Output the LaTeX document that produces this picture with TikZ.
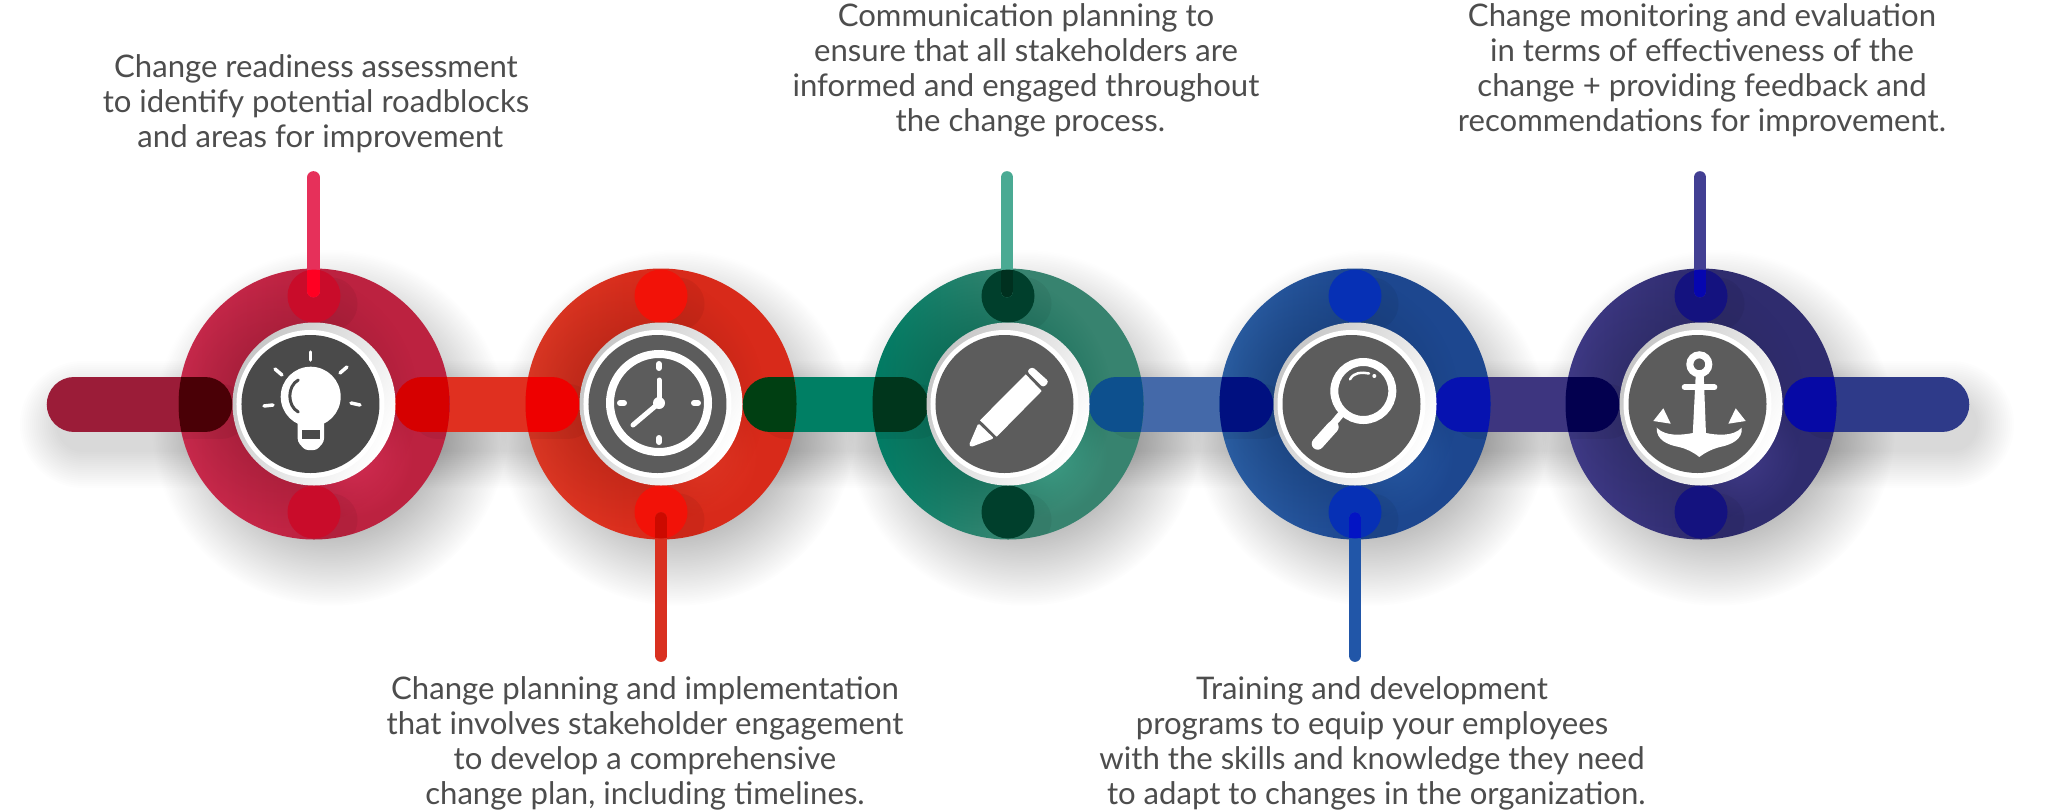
\documentclass[tikz,border=0pt]{standalone}
\usepackage{fontspec}
\setmainfont{Lato}
\usepackage{xcolor}
\usetikzlibrary{fadings}
% ring: left edge, base, dark blob, light blob
\definecolor{ringside1}{HTML}{CE2B4F}\definecolor{ringbase1}{HTML}{BC2240}\definecolor{ringdark1}{HTML}{921A32}\definecolor{ringlight1}{HTML}{D62E54}
\definecolor{ringside2}{HTML}{E03A26}\definecolor{ringbase2}{HTML}{D82A1A}\definecolor{ringdark2}{HTML}{A62114}\definecolor{ringlight2}{HTML}{E23624}
\definecolor{ringside3}{HTML}{008068}\definecolor{ringbase3}{HTML}{37836F}\definecolor{ringdark3}{HTML}{005F4A}\definecolor{ringlight3}{HTML}{40A088}
\definecolor{ringside4}{HTML}{2D62A8}\definecolor{ringbase4}{HTML}{1D478F}\definecolor{ringdark4}{HTML}{163A6E}\definecolor{ringlight4}{HTML}{2759A4}
\definecolor{ringside5}{HTML}{423C8C}\definecolor{ringbase5}{HTML}{2F2C6E}\definecolor{ringdark5}{HTML}{2A295C}\definecolor{ringlight5}{HTML}{413B8A}
% small circle, stick, stick over circle
\definecolor{dot1}{HTML}{C90C2A}\definecolor{stick1}{HTML}{E6305A}\definecolor{stickover1}{HTML}{FF0022}
\definecolor{dot2}{HTML}{F21208}\definecolor{stick2}{HTML}{D93020}\definecolor{stickover2}{HTML}{CC0A00}
\definecolor{dot3}{HTML}{003F2C}\definecolor{stick3}{HTML}{4AAA93}\definecolor{stickover3}{HTML}{00301F}
\definecolor{dot4}{HTML}{0630B5}\definecolor{stick4}{HTML}{2156A8}\definecolor{stickover4}{HTML}{0314C4}
\definecolor{dot5}{HTML}{14127F}\definecolor{stick5}{HTML}{423F93}\definecolor{stickover5}{HTML}{0606B0}
% bars and where they run over a ring
\definecolor{bar1}{HTML}{9B1C38}\definecolor{bar2}{HTML}{E03020}\definecolor{bar3}{HTML}{007F64}
\definecolor{bar4}{HTML}{4469A9}\definecolor{bar5}{HTML}{3D357F}\definecolor{bar6}{HTML}{2E3A89}
\definecolor{overA}{HTML}{4A0006}\definecolor{overB}{HTML}{D60000}\definecolor{overC}{HTML}{EE0000}
\definecolor{overD}{HTML}{003F12}\definecolor{overE}{HTML}{00361C}\definecolor{overF}{HTML}{0D508E}
\definecolor{overG}{HTML}{001080}\definecolor{overH}{HTML}{0612B0}\definecolor{overI}{HTML}{03004F}
\definecolor{overJ}{HTML}{0609A5}
\definecolor{notegray}{HTML}{4D4D4D}
\definecolor{facegray}{HTML}{5C5C5C}
\definecolor{facedark}{HTML}{4A4A4A}
\definecolor{hubgray}{HTML}{C6C6C6}
\tikzfading[name=softfade, inner color=transparent!0, outer color=transparent!100]
\tikzset{
    barline/.style={line width=.545cm, line cap=round},
    stickline/.style={line width=.127cm, line cap=round},
    softbar/.style={line width=#1cm, line cap=round, black, opacity=.007},
    notetext/.style={font=\fontsize{8.85pt}{9.96pt}\selectfont, text=notegray, align=center, inner sep=0pt},
    iconline/.style={white, line width=.05cm, line cap=round},
    cutline/.style={line width=.03cm, line cap=round}
}
\begin{document}
\begin{tikzpicture}[x=.01cm, y=-.01cm]
    \useasboundingbox (0,0) rectangle (2049,809);
    \fill[white] (0,0) rectangle (2049,809);

    % Named points
    \foreach \n/\x in {1/314,2/661,3/1008,4/1355,5/1701}
        \coordinate (hub\n) at (\x,404);
    \foreach \n/\a/\b in {1/74/205,2/422/552,3/770/901,4/1116/1246,5/1462/1592,6/1811/1942} {
        \coordinate (bar\n a) at (\a,404.5);
        \coordinate (bar\n b) at (\b,404.5);
    }
    \foreach \n/\x/\a/\b in {1/313.5/177.5/291,2/661/518.5/655.5,3/1007/177.5/291,4/1355/518.5/655.5,5/1700/177.5/291} {
        \coordinate (stick\n a) at (\x,\a);
        \coordinate (stick\n b) at (\x,\b);
    }

    % Soft shadows
    \foreach \n in {1,...,5}
        \fill[black, opacity=.62, path fading=softfade] ([shift={(16,24)}]hub\n) circle (178);
    \foreach \n in {1,...,6}
        \foreach \w in {.54,.58,...,1.3}
            \draw[softbar=\w] ([shift={(9,20)}]bar\n a) -- ([shift={(9,20)}]bar\n b);

    % Bars
    \foreach \n in {1,...,6}
        \draw[barline, bar\n] (bar\n a) -- (bar\n b);

    % Rings
    \foreach \n in {1,...,5} {
        \shade[left color=ringside\n, right color=ringbase\n, middle color=ringbase\n] (hub\n) circle (135.5);
        \begin{scope}
            \clip (hub\n) circle (135.5);
            \fill[ringdark\n, path fading=softfade] ([shift={(-24,-4)}]hub\n) circle (128);
            \fill[ringlight\n, path fading=softfade] ([shift={(38,52)}]hub\n) circle (62);
            % faint shadows of bars and small circles on the ring
            \fill[black, opacity=.05] ([shift={(17,8)}]hub\n) ++(0,-108) circle (26.5);
            \fill[black, opacity=.05] ([shift={(17,8)}]hub\n) ++(0,108) circle (26.5);
            \draw[barline, black, opacity=.05] ([shift={(16,7)}]bar\n a) -- ([shift={(16,7)}]bar\n b);
            \pgfmathtruncatemacro{\m}{\n+1}
            \draw[barline, black, opacity=.05] ([shift={(16,7)}]bar\m a) -- ([shift={(16,7)}]bar\m b);
        \end{scope}
    }

    % Bars running over the rings
    \foreach \n/\b/\c in {1/1/overA,1/2/overB,2/2/overC,2/3/overD,3/3/overE,3/4/overF,4/4/overG,4/5/overH,5/5/overI,5/6/overJ} {
        \begin{scope}
            \clip (hub\n) circle (135.5);
            \draw[barline, \c] (bar\b a) -- (bar\b b);
        \end{scope}
    }

    % Small circles
    \foreach \n in {1,...,5} {
        \fill[dot\n] (hub\n) ++(0,-108) coordinate (dot\n a) circle (26.5);
        \fill[dot\n] (hub\n) ++(0,108) coordinate (dot\n b) circle (26.5);
    }

    % Sticks
    \foreach \n/\d in {1/a,2/b,3/a,4/b,5/a} {
        \draw[stickline, stick\n] (stick\n a) -- (stick\n b);
        \begin{scope}
            \clip (dot\n\d) circle (26.5);
            \draw[stickline, stickover\n] (stick\n a) -- (stick\n b);
        \end{scope}
    }

    % Hubs
    \foreach \n in {1,...,5} {
        \shade[left color=hubgray, right color=white, shading angle=60] (hub\n) circle (81.5);
        \fill[white] ([xshift=-1]hub\n) circle (74);
    }
    \fill[facedark] ([xshift=-1]hub1) circle (69);
    \foreach \n in {2,...,5}
        \fill[facegray] ([xshift=-1]hub\n) circle (69);

    % Lamp
    \begin{scope}[shift={(hub1)}, xshift=-.01cm, yshift=.01cm]
        \fill[white] (-2.3,-6.3) circle (30);
        \fill[white, rounded corners=.03cm] (-15.3,14) -- (11,14) -- (11,38.7) -- (3.7,47) -- (-8,47) -- (-15.3,38.7) -- cycle;
        \fill[facedark] (-11.3,27) -- (7,27) -- (7,36) -- (-11.3,36) -- cycle;
        \draw[cutline, facedark] (-14.7,-23) .. controls (-26,-17) and (-26,3) .. (-14.7,9);
        \draw[iconline, line width=.035cm] (-2.3,-51) -- (-2.3,-43);
        \draw[iconline, line width=.035cm] (-38,-34) -- (-31,-28);
        \draw[iconline, line width=.035cm] (34,-36) -- (27,-30);
        \draw[iconline, line width=.035cm] (-49,3) -- (-40,2);
        \draw[iconline, line width=.035cm] (38,0) -- (47,2);
    \end{scope}

    % Clock
    \begin{scope}[shift={(hub2)}, xshift=-.02cm, yshift=.01cm]
        \draw[white, line width=.08cm] (0,0) circle (49);
        \draw[iconline, line width=.06cm] (0,-39) -- (0,-35);
        \draw[iconline, line width=.06cm] (0,35) -- (0,39);
        \draw[iconline, line width=.06cm] (-39,0) -- (-35,0);
        \draw[iconline, line width=.06cm] (35,0) -- (39,0);
        \draw[iconline] (0,0) -- (0,-23);
        \draw[iconline] (0,0) -- (-26,22);
        \fill[white] (0,0) circle (6);
    \end{scope}

    % Pencil
    \begin{scope}[shift={(hub3)}, xshift=.01cm, yshift=-.01cm]
        \fill[white] (16.7,-30.7) -- (32.7,-14) -- (-12.3,31.7) -- (-29,15.3) -- cycle;
        \fill[white, rounded corners=.03cm] (23.3,-38.3) -- (40,-23.3) -- (34.3,-17.3) -- (17.7,-34) -- cycle;
        \fill[white, rounded corners=.015cm] (-30.7,18.3) -- (-40,40) -- (-38,42) -- (-15,33.3) -- cycle;
    \end{scope}

    % Magnifier
    \begin{scope}[shift={(hub4)}, xshift=.01cm, yshift=-.01cm]
        \draw[white, line width=.08cm] (7.3,-14) circle (29);
        \draw[white, line width=.07cm] (-15,9.3) -- (-24,20);
        \draw[white, line width=.12cm, line cap=round] (-23.3,22) -- (-38.3,38.7);
        \draw[iconline, line width=.025cm] (-6,-25.7) .. controls (-2,-33) and (6,-33) .. (13,-31.5);
        \fill[white] (18.3,-29) circle (2);
    \end{scope}

    % Anchor
    \begin{scope}[shift={(hub5)}, xshift=-.01cm, yshift=-.01cm]
        \draw[white, line width=.07cm] (-.7,-40.7) circle (9.5);
        \draw[iconline, line width=.06cm] (-15.3,-17.7) -- (14.3,-17.7);
        \fill[white] (-4.3,-30) -- (3.7,-30) -- (6,30) -- (-7.3,30) -- cycle;
        \fill[white] (-43.3,22.7) .. controls (-34,32) and (-18,30) .. (-7,28) -- (6,28) .. controls (16,30) and (33,32) .. (41.7,22.7)
            .. controls (43,35) and (30,40) .. (20,42) .. controls (12,44) and (6,47) .. (-.7,52) .. controls (-7,47) and (-13,44) .. (-21,42)
            .. controls (-32,40) and (-44,35) .. (-43.3,22.7) -- cycle;
        \fill[white] (-46.7,16) -- (-29.3,18.7) -- (-36.7,3.3) -- cycle;
        \fill[white] (28.3,18.7) -- (45.7,16) -- (35.7,3.3) -- cycle;
    \end{scope}

    % Texts
    \node[notetext] (note1) at (316,104) {Change readiness assessment\\to identify potential roadblocks\\\hspace*{.28em}and areas for improvement};
    \node[notetext] (note2) at (645,743) {Change planning and implementation\\that involves stakeholder engagement\\to develop a comprehensive\\change plan, including timelines.};
    \node[notetext] (note3) at (1026,70) {Communication planning to\\ensure that all stakeholders are\\informed and engaged throughout\\\hspace*{.28em}the change process.};
    \node[notetext] (note4) at (1372,743) {Training and development\\programs to equip your employees\\with the skills and knowledge they need\\\hspace*{.28em}to adapt to changes in the organization.};
    \node[notetext] (note5) at (1702,70) {Change monitoring and evaluation\\in terms of effectiveness of the\\change + providing feedback and\\recommendations for improvement.};
\end{tikzpicture}
\end{document}
